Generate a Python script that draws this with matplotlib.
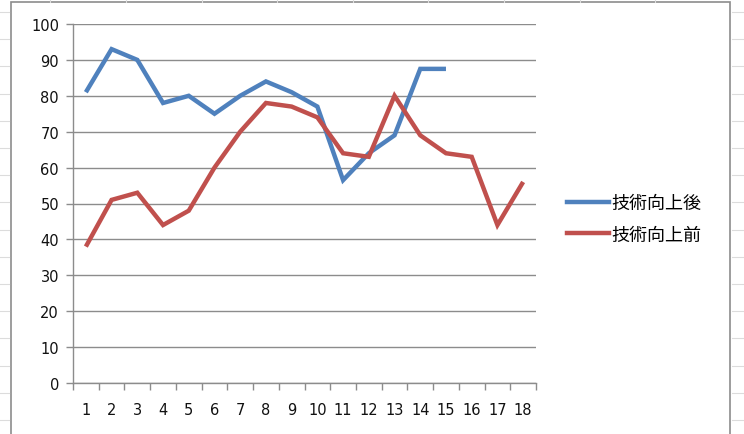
import matplotlib
matplotlib.use("Agg")
import matplotlib.pyplot as plt
from matplotlib.patches import Rectangle
from matplotlib.lines import Line2D

# データ
days = list(range(1, 19))
after_vals = [81, 93, 90, 78, 80, 75, 80, 84, 81, 77, 56.5, 64, 69, 87.5, 87.5]
before_vals = [38, 51, 53, 44, 48, 60, 70, 78, 77, 74, 64, 63, 80, 69, 64, 63, 44, 56]
series_names = ["技術向上後", "技術向上前"]
colors = ["#4F81BD", "#C0504D"]
y_ticks = list(range(0, 101, 10))

plt.rcParams["font.family"] = ["DejaVu Sans", "Noto Sans CJK JP"]

W, H = 744, 435
fig = plt.figure(figsize=(W / 100, H / 100), dpi=100)
ax = fig.add_axes([73 / W, 51 / H, 463 / W, 359 / H])

# 背景のシート罫線 (うすく)
sheet_color = "#dcdcdc"
for xc in [50, 126, 202, 277, 353, 428, 504, 580, 655]:
    fig.add_artist(Line2D([xc / W, xc / W], [1, 1 - 3 / H], transform=fig.transFigure,
                          color=sheet_color, linewidth=0.8))
for k in range(16):
    yr = 13 + 27.2 * k
    fig.add_artist(Line2D([0, 9 / W], [1 - yr / H] * 2, transform=fig.transFigure,
                          color=sheet_color, linewidth=0.8))
    fig.add_artist(Line2D([732 / W, 1], [1 - yr / H] * 2, transform=fig.transFigure,
                          color=sheet_color, linewidth=0.8))

# グラフエリアの枠 (Excel 風)
fig.patches.append(Rectangle((11 / W, -0.05), 719 / W, 1 - 3 / H + 0.05,
                             transform=fig.transFigure, fill=False,
                             edgecolor="#8c8c8c", linewidth=1.2))

ax.plot(days[:len(after_vals)], after_vals, color=colors[0], linewidth=3.2,
        solid_capstyle="butt", solid_joinstyle="miter", label=series_names[0])
ax.plot(days[:len(before_vals)], before_vals, color=colors[1], linewidth=3.2,
        solid_capstyle="butt", solid_joinstyle="miter", label=series_names[1])

ax.set_xlim(0.5, 18.5)
ax.set_ylim(0, 100)
ax.set_yticks(y_ticks)
ax.set_xticks(days)
ax.set_xticklabels([str(d) for d in days])
ax.set_xticks([d + 0.5 for d in range(0, 19)], minor=True)
ax.tick_params(axis="x", which="major", length=0, pad=14, labelsize=10.5, colors="#111111")
ax.tick_params(axis="x", which="minor", length=5, width=1, color="#8c8c8c", direction="out")
ax.tick_params(axis="y", length=5, width=1, color="#8c8c8c", pad=5, labelsize=10.5,
               labelcolor="#111111")

ax.grid(axis="y", color="#8c8c8c", linewidth=1)
ax.set_axisbelow(True)
for s in ["top", "right"]:
    ax.spines[s].set_visible(False)
for s in ["left", "bottom"]:
    ax.spines[s].set_color("#8c8c8c")
    ax.spines[s].set_linewidth(1)

handles = [Line2D([], [], color=c, linewidth=3.2) for c in colors]
fig.legend(handles, series_names, loc="center left", bbox_to_anchor=(551 / W, 1 - 220 / H),
           frameon=False, prop={"family": "Noto Sans CJK JP", "size": 13},
           handlelength=2.3, handletextpad=0.15, labelspacing=0.75)

fig.savefig("out.png", dpi=100)
